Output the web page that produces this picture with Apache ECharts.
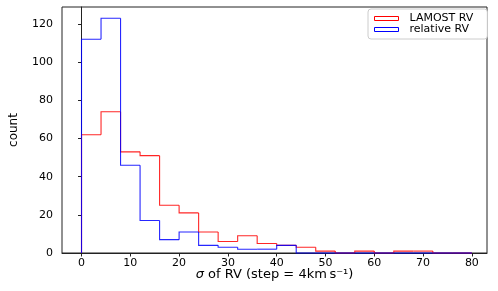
<!DOCTYPE html>
<html>
<head>
<meta charset="utf-8">
<script src="https://cdn.jsdelivr.net/npm/echarts@6/dist/echarts.min.js"></script>
<style>
html,body{margin:0;padding:0;background:#fff;}
#chart{width:498px;height:291px;}
</style>
</head>
<body>
<div id="chart"></div>
<script>
// Histogram bin edges (km/s)
const binEdges = [0,4,8,12,16,20,24,28,32,36,40,44,48,52,56,60,64,68,72,76,80];
// Counts per bin
const lamostRV   = [62,74,53,51,25,21,11,6,9,5,4,3,1,0,1,0,1,1,0,0];
const relativeRV = [112,123,46,17,7,11,4,3,2,2,4,0,0,0,0,0,0,0,0,0];
const seriesNames = ['LAMOST RV','relative RV'];
const seriesColors = ['#ff0000','#0000ff'];
const xTicks = [0,10,20,30,40,50,60,70,80];
const yTicks = [0,20,40,60,80,100,120];

// one data item per bin: [left edge, right edge, count, previous count, is last]
function binItems(edges, counts){
  return counts.map((c, i) => [edges[i], edges[i+1], c, i === 0 ? 0 : counts[i-1], i === counts.length - 1 ? 1 : 0]);
}

function makeRender(color){
  return function(params, api){
    const x0 = api.value(0), x1 = api.value(1), v = api.value(2), prev = api.value(3), last = api.value(4);
    const pts = [api.coord([x0, prev]), api.coord([x0, v]), api.coord([x1, v])];
    if (last) pts.push(api.coord([x1, 0]));
    return {
      type:'polyline',
      shape:{points:pts},
      style:{fill:null, stroke:color, lineWidth:1.1, opacity:0.85}
    };
  };
}

const FONT = 'DejaVu Sans';
const chart = echarts.init(document.getElementById('chart'), null, {renderer:'canvas'});
chart.setOption({
  animation:false,
  backgroundColor:'#fff',
  textStyle:{fontFamily:FONT, color:'#000'},
  grid:{left:62, right:11, top:7, bottom:38, show:true, borderColor:'#222', borderWidth:1, backgroundColor:'transparent'},
  legend:{
    orient:'vertical', left:368, top:9,
    padding:[4,14,4,6], itemGap:0, itemWidth:24, itemHeight:4,
    borderColor:'#cccccc', borderWidth:1, borderRadius:3, backgroundColor:'#fff',
    textStyle:{fontFamily:FONT, fontSize:11, color:'#000', lineHeight:10, padding:[0,0,0,6]},
    data:[
      {name:seriesNames[0], icon:'rect', itemStyle:{color:'transparent', borderColor:seriesColors[0], borderWidth:1}},
      {name:seriesNames[1], icon:'rect', itemStyle:{color:'transparent', borderColor:seriesColors[1], borderWidth:1}}
    ]
  },
  xAxis:{
    type:'value', min:-4, max:83.1,
    name:'{i|σ} of RV (step = 4km\u2009s⁻¹)', nameLocation:'middle', nameGap:15, nameMoveOverlap:false,
    nameTextStyle:{fontFamily:FONT, fontSize:13, color:'#000', rich:{i:{fontFamily:FONT, fontStyle:'italic', fontSize:13, color:'#000'}}},
    axisLine:{show:true, lineStyle:{color:'#222', width:1}},
    axisTick:{show:true, inside:false, length:3.5, customValues:xTicks, lineStyle:{color:'#222'}},
    axisLabel:{customValues:xTicks, fontFamily:FONT, fontSize:11, color:'#000', margin:5},
    splitLine:{show:false}
  },
  yAxis:{
    type:'value', min:0, max:128.9,
    name:'count', nameLocation:'middle', nameGap:42, nameRotate:90, nameMoveOverlap:false,
    nameTextStyle:{fontFamily:FONT, fontSize:12, color:'#000'},
    axisLine:{show:true, lineStyle:{color:'#222', width:1}},
    axisTick:{show:true, inside:false, length:3.5, customValues:yTicks, lineStyle:{color:'#222'}},
    axisLabel:{customValues:yTicks, fontFamily:FONT, fontSize:11, color:'#000', margin:9},
    splitLine:{show:false}
  },
  series:[
    {name:seriesNames[0], type:'custom', renderItem:makeRender(seriesColors[0]), data:binItems(binEdges, lamostRV),
     encode:{x:[0,1], y:[2,3]}, z:2, itemStyle:{color:seriesColors[0]}},
    {name:seriesNames[1], type:'custom', renderItem:makeRender(seriesColors[1]), data:binItems(binEdges, relativeRV),
     encode:{x:[0,1], y:[2,3]}, z:3, itemStyle:{color:seriesColors[1]}}
  ]
});
</script>
</body>
</html>
